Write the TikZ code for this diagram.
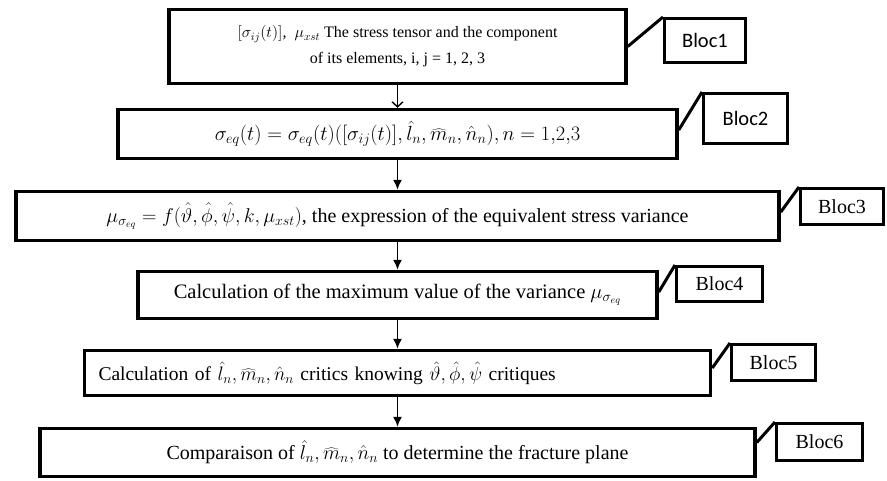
\RequirePackage{fix-cm}
\documentclass[tikz,border=0pt]{standalone}
\usepackage{fontspec}
\setmainfont{Liberation Serif}
\newfontfamily\calib{Carlito}
\usetikzlibrary{arrows.meta}

\begin{document}
\begin{tikzpicture}[
		x=1pt, y=-1pt,
		blk/.style = {rectangle, draw, line width=3.5pt, align=center, inner sep=2pt, font=\fontsize{20}{24}\selectfont},
		tag/.style = {rectangle, draw, line width=3pt, inner sep=0pt, font=\fontsize{20}{22}\selectfont},
		tagc/.style = {tag, font=\calib\fontsize{20.5}{22}\selectfont},
		c/.style = {line width=3pt},
		r/.style = {-{Latex[length=10pt, width=9pt]}, line width=1.4pt},
		v/.style = {-{Straight Barb[length=5pt, width=11pt]}, line width=1.4pt},
		]
		\useasboundingbox (0, 0) rectangle (887, 480);
		
		%Nodes
		\node[blk, minimum width=457, minimum height=74, font=\fontsize{16}{26}\selectfont]	(b1)	at	(397.5, 46.5)	{$\big[\sigma_{ij}(t)\big]$,~ $\mu_{xst}$ The stress tensor and the component\\ of its elements, i, j = 1, 2, 3};
		\node[blk, minimum width=559, minimum height=49, font=\fontsize{20.5}{24}\selectfont]	(b2)	at	(397.5, 134)	{$\sigma_{eq}(t)=\sigma_{eq}(t)\big([\sigma_{ij}(t)],\hat{l}_n,\widehat{m}_n,\hat{n}_n\big),n=1{,}2{,}3$};
		\node[blk, minimum width=763, minimum height=49]	(b3)	at	(397.5, 216)	{$\mu_{\sigma_{eq}}=f(\hat{\vartheta},\hat{\phi},\hat{\psi},k,\mu_{xst})$, the expression of the equivalent stress variance};
		\node[blk, minimum width=519, minimum height=47, font=\fontsize{20.5}{24}\selectfont]	(b4)	at	(397.5, 295)	{Calculation of the maximum value of the variance $\mu_{\sigma_{eq}}$};
		\node[blk, minimum height=45, inner xsep=14pt, text width=598, align=left, font=\fontsize{19.5}{24}\selectfont]	(b5)	at	(397.5, 373)	{Calculation of $\hat{l}_n,\widehat{m}_n,\hat{n}_n$ critics knowing $\hat{\vartheta},\hat{\phi},\hat{\psi}$ critiques};
		\node[blk, minimum width=715, minimum height=48]	(b6)	at	(397.5, 452.5)	{Comparaison of $\hat{l}_n,\widehat{m}_n,\hat{n}_n$ to determine the fracture plane};
		
		\node[tagc, minimum width=81, minimum height=44]	(t1)	at	(705, 40.5)	{Bloc1};
		\node[tagc, minimum width=84, minimum height=50]	(t2)	at	(745.5, 118.5)	{Bloc2};
		\node[tag, minimum width=83, minimum height=36]	(t3)	at	(842, 206.5)	{Bloc3};
		\node[tag, minimum width=86, minimum height=35]	(t4)	at	(719.5, 284)	{Bloc4};
		\node[tag, minimum width=84, minimum height=36]	(t5)	at	(773.5, 362.5)	{Bloc5};
		\node[tag, minimum width=86, minimum height=37]	(t6)	at	(819.5, 442)	{Bloc6};
		
		%Lines
		\draw[v]	(b1)	--	(b2);
		\draw[r]	(b2)	--	(b3);
		\draw[r]	(b3)	--	(b4);
		\draw[r]	(b4)	--	(b5);
		\draw[r]	(b5)	--	(b6);
		
		\draw[c]	(b1.east)	--	(t1.north west);
		\draw[c]	([yshift=4pt]b2.east)	--	(t2.north west);
		\draw[c]	([yshift=4pt]b3.east)	--	(t3.north west);
		\draw[c]	([yshift=3pt]b4.east)	--	(t4.north west);
		\draw[c]	([yshift=5pt]b5.east)	--	(t5.north west);
		\draw[c]	([yshift=10pt]b6.east)	--	(t6.north west);
		
	\end{tikzpicture}
\end{document}
